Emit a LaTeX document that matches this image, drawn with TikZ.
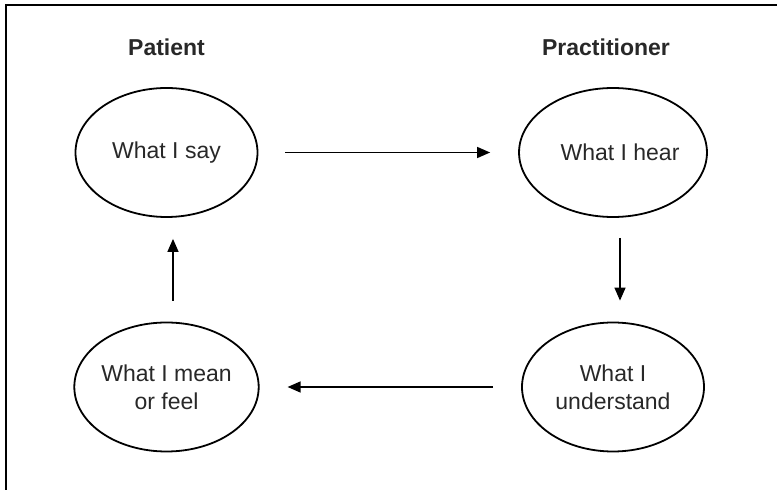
\documentclass[tikz,border=0pt]{standalone}
\usepackage{fontspec}
\setmainfont{Liberation Sans}
\usetikzlibrary{shapes.geometric,arrows.meta}
\definecolor{txt}{RGB}{40,40,40}
\begin{document}
\begin{tikzpicture}[x=1pt,y=1pt,
  bubble/.style={ellipse,draw=black,line width=1.8pt,minimum width=182pt,minimum height=129pt,
    inner sep=0pt,align=center,text=txt,font=\fontsize{23}{28}\selectfont},
  heading/.style={text=txt,font=\fontsize{23}{28}\selectfont\bfseries},
  arr/.style={line width=1.4pt,-{Triangle[length=13pt,width=11pt]}}]
\useasboundingbox (0,0) rectangle (777,490);
% partial frame: left and top edges
\draw[line width=2pt] (6,0) -- (6,485) -- (777,485);
% column headings
\node[heading] (hpat) at (166.5,443) {Patient};
\node[heading] (hpra) at (606,443) {Practitioner};
% the four stages
\node[bubble] (say) at (166.5,337.5) {What I say};
\node[bubble] (hear) at (613,337.5) {\hspace{14pt}What I hear};
\node[bubble] (und) at (613,103) {What I\\understand};
\node[bubble] (mean) at (166.5,103) {What I mean\\or feel};
% cycle connectors
\draw[arr,shorten <=27pt,shorten >=28pt] (say.east) -- (hear.west);
\draw[arr,shorten <=20pt,shorten >=21pt] ([xshift=7pt]hear.south) -- ([xshift=7pt]und.north);
\draw[arr,shorten <=28pt,shorten >=28pt] (und.west) -- (mean.east);
\draw[arr,shorten <=21pt,shorten >=21pt] ([xshift=6.5pt]mean.north) -- ([xshift=6.5pt]say.south);
\end{tikzpicture}
\end{document}
